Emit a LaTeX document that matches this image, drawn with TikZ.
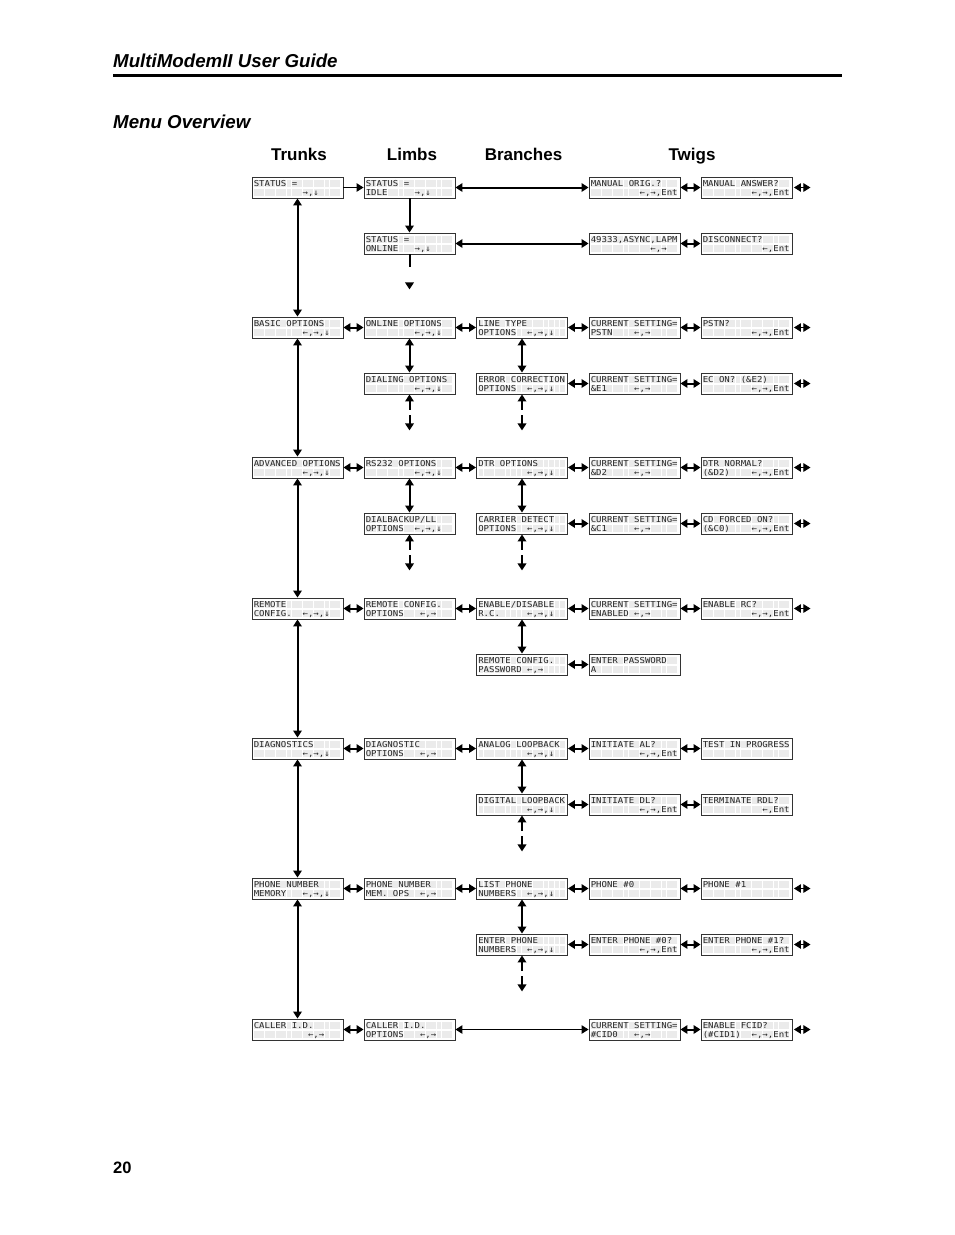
\documentclass[tikz,border=0pt]{standalone}
\usepackage{fontspec}
\setmainfont{Liberation Sans}
\newfontfamily\lcdfont[FakeStretch=1.1]{DejaVu Sans Mono}
% one LCD cell per ~
\newcommand\lcdtype{\lcdfont\fontsize{8.2}{9}\selectfont\def~{\hspace*{5.43pt}}}
\usetikzlibrary{arrows.meta,positioning}

\tikzset{
  lcd/.style={draw=black!80, line width=0.9pt, minimum width=91pt, minimum height=21pt,
    inner xsep=1.75pt, inner ysep=0pt, text width=87.5pt, align=left,
    text height=6pt, text depth=8.2pt, text=black!85, font=\lcdtype,
    path picture={\foreach \cx in {0,...,15} \foreach \rw in {0,1}
      \fill[black!8] ([xshift=2pt+\cx*5.43pt, yshift=-2.7pt-\rw*9pt]path picture bounding box.north west)
        rectangle ++(4.8pt,-7.4pt);}},
  heading/.style={anchor=base, font=\bfseries\fontsize{17}{20}\selectfont},
  nav/.style={<->, line width=2pt},
  nav down/.style={->, line width=2pt},
  jump/.style={<->, line width=2pt},
  jump thin/.style={<->, line width=1pt},
  step on/.style={->, line width=1pt},
  more/.style={<->, line width=2pt, dash pattern=on 9pt off 5pt on 30pt},
  more down/.style={->, line width=2pt, dash pattern=on 13pt off 30pt},
  wrap/.style={<->, line width=1pt, shorten <=1.5pt}
}

\begin{document}
\begin{tikzpicture}[x=1pt,y=1pt,>={Triangle[length=7pt,width=8.5pt]}]
\useasboundingbox (0,0) rectangle (954,-1235);
\fill[white] (0,0) rectangle (954,-1235);

% page header
\node[anchor=base west, inner sep=0pt, font=\bfseries\itshape\fontsize{18.7}{22}\selectfont] (guide) at (113,-67.5) {MultiModemII User Guide};
\draw[line width=2.5pt] (113,-75.5) -- (842,-75.5);
\node[anchor=base west, inner sep=0pt, font=\bfseries\itshape\fontsize{18.7}{22}\selectfont] (overview) at (113,-128) {Menu Overview};

\node[heading] (trunks) at (299,-160) {Trunks};
\node[heading] (limbs) at (412,-160) {Limbs};
\node[heading] (branches) at (523.5,-160) {Branches};
\node[heading] (twigs) at (692,-160) {Twigs};

% status
\node[lcd] (status) at (297.5,-187.5) {STATUS~=\\~~~~~~~~~→,↓};
\node[lcd] (idle) at (409.5,-187.5) {STATUS~=\\IDLE~~~~~→,↓};
\node[lcd] (online) at (409.5,-243.5) {STATUS~=\\ONLINE~~~→,↓};
\node[lcd] (manorig) at (634.5,-187.5) {MANUAL~ORIG.?\\~~~~~~~~~←,→,Ent};
\node[lcd] (mananswer) at (746.5,-187.5) {MANUAL~ANSWER?\\~~~~~~~~~←,→,Ent};
\node[lcd] (linkinfo) at (634.5,-243.5) {49333,ASYNC,LAPM\\~~~~~~~~~~~←,→};
\node[lcd] (disconnect) at (746.5,-243.5) {DISCONNECT?\\~~~~~~~~~~~←,Ent};

% basic options
\node[lcd] (basic) at (297.5,-327.5) {BASIC~OPTIONS\\~~~~~~~~~←,→,↓};
\node[lcd] (onlineopts) at (409.5,-327.5) {ONLINE~OPTIONS\\~~~~~~~~~←,→,↓};
\node[lcd] (linetype) at (522,-327.5) {LINE~TYPE\\OPTIONS~~←,→,↓};
\node[lcd] (pstnset) at (634.5,-327.5) {CURRENT~SETTING=\\PSTN~~~~←,→};
\node[lcd] (pstnq) at (746.5,-327.5) {PSTN?\\~~~~~~~~~←,→,Ent};
\node[lcd] (dialing) at (409.5,-383.5) {DIALING~OPTIONS\\~~~~~~~~~←,→,↓};
\node[lcd] (errcorr) at (522,-383.5) {ERROR~CORRECTION\\OPTIONS~~←,→,↓};
\node[lcd] (ecset) at (634.5,-383.5) {CURRENT~SETTING=\\\&E1~~~~~←,→};
\node[lcd] (ecq) at (746.5,-383.5) {EC~ON?~(\&E2)\\~~~~~~~~~←,→,Ent};

% advanced options
\node[lcd] (advanced) at (297.5,-467.5) {ADVANCED~OPTIONS\\~~~~~~~~~←,→,↓};
\node[lcd] (rsopts) at (409.5,-467.5) {RS232~OPTIONS\\~~~~~~~~~←,→,↓};
\node[lcd] (dtropts) at (522,-467.5) {DTR~OPTIONS\\~~~~~~~~~←,→,↓};
\node[lcd] (dtrset) at (634.5,-467.5) {CURRENT~SETTING=\\\&D2~~~~~←,→};
\node[lcd] (dtrq) at (746.5,-467.5) {DTR~NORMAL?\\(\&D2)~~~~←,→,Ent};
\node[lcd] (dialback) at (409.5,-523.5) {DIALBACKUP/LL\\OPTIONS~~←,→,↓};
\node[lcd] (carrier) at (522,-523.5) {CARRIER~DETECT\\OPTIONS~~←,→,↓};
\node[lcd] (cdset) at (634.5,-523.5) {CURRENT~SETTING=\\\&C1~~~~~←,→};
\node[lcd] (cdq) at (746.5,-523.5) {CD~FORCED~ON?\\(\&C0)~~~~←,→,Ent};

% remote configuration
\node[lcd] (remote) at (297.5,-608.5) {REMOTE\\CONFIG.~~←,→,↓};
\node[lcd] (remopts) at (409.5,-608.5) {REMOTE~CONFIG.\\OPTIONS~~~←,→};
\node[lcd] (enablerc) at (522,-608.5) {ENABLE/DISABLE\\R.C.~~~~~←,→,↓};
\node[lcd] (rcset) at (634.5,-608.5) {CURRENT~SETTING=\\ENABLED~←,→};
\node[lcd] (rcq) at (746.5,-608.5) {ENABLE~RC?\\~~~~~~~~~←,→,Ent};
\node[lcd] (rcpass) at (522,-664.5) {REMOTE~CONFIG.\\PASSWORD~←,→};
\node[lcd] (password) at (634.5,-664.5) {ENTER~PASSWORD\\A};

% diagnostics
\node[lcd] (diag) at (297.5,-748.5) {DIAGNOSTICS\\~~~~~~~~~←,→,↓};
\node[lcd] (diagopts) at (409.5,-748.5) {DIAGNOSTIC\\OPTIONS~~~←,→};
\node[lcd] (analog) at (522,-748.5) {ANALOG~LOOPBACK\\~~~~~~~~~←,→,↓};
\node[lcd] (inital) at (634.5,-748.5) {INITIATE~AL?\\~~~~~~~~~←,→,Ent};
\node[lcd] (testprog) at (746.5,-748.5) {TEST~IN~PROGRESS};
\node[lcd] (digital) at (522,-804.5) {DIGITAL~LOOPBACK\\~~~~~~~~~←,→,↓};
\node[lcd] (initdl) at (634.5,-804.5) {INITIATE~DL?\\~~~~~~~~~←,→,Ent};
\node[lcd] (termrdl) at (746.5,-804.5) {TERMINATE~RDL?\\~~~~~~~~~~~←,Ent};

% phone number memory
\node[lcd] (phone) at (297.5,-888.5) {PHONE~NUMBER\\MEMORY~~~←,→,↓};
\node[lcd] (phoneops) at (409.5,-888.5) {PHONE~NUMBER\\MEM.~OPS~~←,→};
\node[lcd] (listphone) at (522,-888.5) {LIST~PHONE\\NUMBERS~~←,→,↓};
\node[lcd] (phzero) at (634.5,-888.5) {PHONE~\#0};
\node[lcd] (phone1) at (746.5,-888.5) {PHONE~\#1};
\node[lcd] (enterphone) at (522,-944.5) {ENTER~PHONE\\NUMBERS~~←,→,↓};
\node[lcd] (enterzero) at (634.5,-944.5) {ENTER~PHONE~\#0?\\~~~~~~~~~←,→,Ent};
\node[lcd] (enterone) at (746.5,-944.5) {ENTER~PHONE~\#1?\\~~~~~~~~~←,→,Ent};

% caller id
\node[lcd] (caller) at (297.5,-1029.5) {CALLER~I.D.\\~~~~~~~~~~←,→};
\node[lcd] (calleropts) at (409.5,-1029.5) {CALLER~I.D.\\OPTIONS~~~←,→};
\node[lcd] (cidset) at (634.5,-1029.5) {CURRENT~SETTING=\\\#CID0~~~←,→};
\node[lcd] (fcid) at (746.5,-1029.5) {ENABLE~FCID?\\(\#CID1)~~←,→,Ent};

\node[anchor=base west, inner sep=0pt, font=\bfseries\fontsize{16.5}{19}\selectfont] (page) at (113,-1173) {20};

% trunk
\foreach \a/\b in {status/basic, basic/advanced, advanced/remote, remote/diag, diag/phone, phone/caller}
  \draw[nav] (\a) -- (\b);

% status lines
\draw[step on] (status) -- (idle);
\draw[nav down] (idle) -- (online);
\draw[jump] (idle) -- (manorig);
\draw[jump] (online) -- (linkinfo);
\draw[jump thin] (calleropts) -- (cidset);
\coordinate[below=35pt of online] (online-end);
\draw[more down] (online) -- (online-end);

% menu steps
\foreach \a/\b in {manorig/mananswer, linkinfo/disconnect,
    basic/onlineopts, onlineopts/linetype, linetype/pstnset, pstnset/pstnq,
    errcorr/ecset, ecset/ecq,
    advanced/rsopts, rsopts/dtropts, dtropts/dtrset, dtrset/dtrq,
    carrier/cdset, cdset/cdq,
    remote/remopts, remopts/enablerc, enablerc/rcset, rcset/rcq, rcpass/password,
    diag/diagopts, diagopts/analog, analog/inital, inital/testprog,
    digital/initdl, initdl/termrdl,
    phone/phoneops, phoneops/listphone, listphone/phzero, phzero/phone1,
    enterphone/enterzero, enterzero/enterone,
    caller/calleropts, cidset/fcid,
    onlineopts/dialing, rsopts/dialback, linetype/errcorr, dtropts/carrier,
    enablerc/rcpass, analog/digital, listphone/enterphone}
  \draw[nav] (\a) -- (\b);

% more below
\foreach \n in {dialing, dialback, errcorr, carrier, digital, enterphone} {
  \coordinate[below=36pt of \n] (\n-end);
  \draw[more] (\n) -- (\n-end);
}

% wrap around
\foreach \n in {mananswer, pstnq, ecq, dtrq, cdq, rcq, phone1, enterone, fcid} {
  \coordinate[right=18pt of \n] (\n-end);
  \draw[wrap] (\n) -- (\n-end);
}
\end{tikzpicture}
\end{document}
